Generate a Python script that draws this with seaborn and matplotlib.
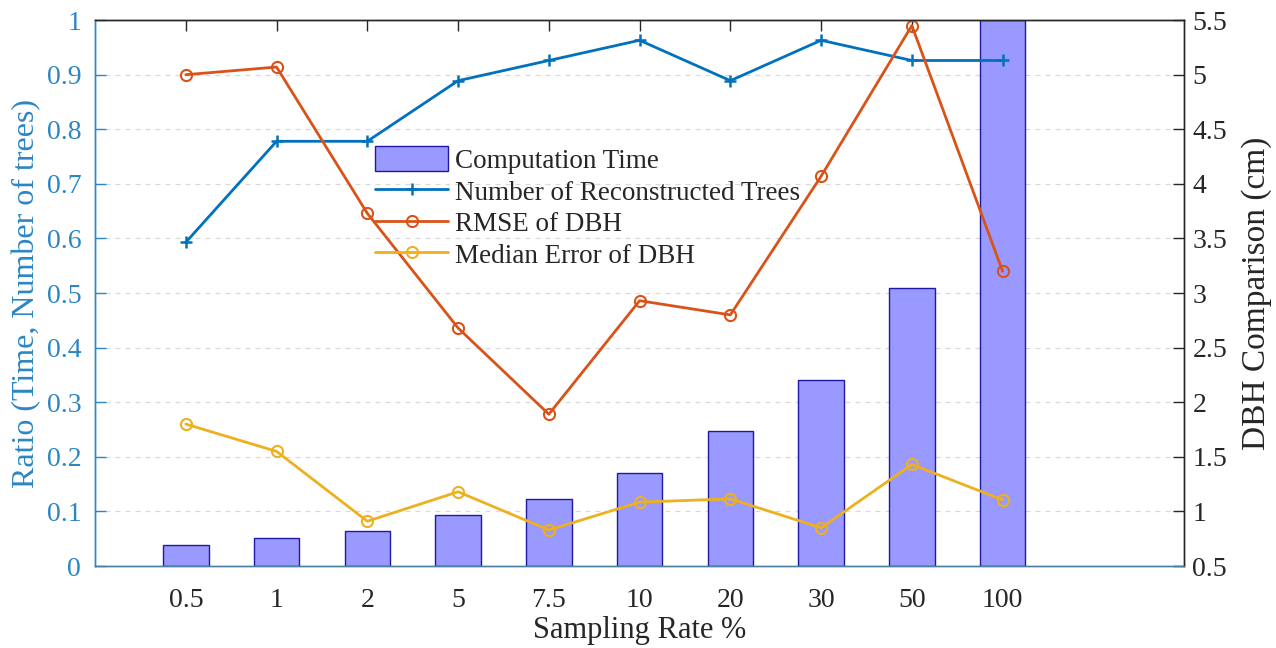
import pandas as pd
import matplotlib
matplotlib.use('Agg')
import matplotlib.pyplot as plt
import seaborn as sns
from matplotlib.patches import Patch
from matplotlib.lines import Line2D

# Data
rates = ['0.5', '1', '2', '5', '7.5', '10', '20', '30', '50', '100']
comp_time = [0.039, 0.051, 0.065, 0.093, 0.123, 0.170, 0.247, 0.340, 0.509, 1.0]
n_trees = [0.593, 0.778, 0.778, 0.889, 0.926, 0.963, 0.889, 0.963, 0.926, 0.926]
rmse_dbh = [5.00, 5.07, 3.73, 2.68, 1.89, 2.93, 2.80, 4.07, 5.45, 3.20]
median_dbh = [1.80, 1.55, 0.91, 1.18, 0.83, 1.085, 1.115, 0.85, 1.43, 1.106]

df = pd.DataFrame({'rate': rates, 'time': comp_time, 'trees': n_trees,
                   'rmse': rmse_dbh, 'median': median_dbh})
df['pos'] = range(len(df))

sns.set_style('white')
plt.rcParams['font.family'] = ['Liberation Serif', 'DejaVu Serif']

blue = '#0072BD'
orange = '#D95319'
yellow = '#EDB120'
bar_fill = '#9999FF'
bar_edge = '#1a1aa6'
axis_blue = '#2b86c4'
dark = '#262626'

fig = plt.figure(figsize=(12.76, 6.48), dpi=100)
ax = fig.add_axes([0.0745, 0.1265, 0.8535, 0.8425])
ax2 = ax.twinx()

# Bars: computation time (left axis)
sns.barplot(data=df, x='rate', y='time', ax=ax, width=0.5, color=bar_fill,
            saturation=1, edgecolor=bar_edge, linewidth=1.0, zorder=2)
# Line: number of reconstructed trees (left axis)
sns.lineplot(data=df, x='pos', y='trees', ax=ax, color=blue, marker='+',
             markersize=9, markeredgecolor=blue, markeredgewidth=1.8,
             linewidth=2.0, zorder=3)
# Lines on right axis
sns.lineplot(data=df, x='pos', y='rmse', ax=ax2, color=orange, marker='o',
             markersize=8, markerfacecolor='none', markeredgecolor=orange,
             markeredgewidth=1.5, linewidth=2.0)
sns.lineplot(data=df, x='pos', y='median', ax=ax2, color=yellow, marker='o',
             markersize=8, markerfacecolor='none', markeredgecolor=yellow,
             markeredgewidth=1.5, linewidth=2.0)

ax.set_xlim(-1, 11)
ax.set_ylim(0, 1)
ax2.set_ylim(0.5, 5.5)
ax.set_yticks([i / 10 for i in range(11)])
ax.set_yticklabels(['0', '0.1', '0.2', '0.3', '0.4', '0.5', '0.6', '0.7', '0.8', '0.9', '1'])
ax2.set_yticks([0.5 + 0.5 * i for i in range(11)])
ax2.set_yticklabels(['0.5', '1', '1.5', '2', '2.5', '3', '3.5', '4', '4.5', '5', '5.5'])
ax.set_xticks(df['pos'])
ax.set_xticklabels(rates)

ax.yaxis.grid(True, linestyle=(0, (4, 4)), color='#d9d9d9', linewidth=0.9)
ax.set_axisbelow(True)

ax.set_xlabel('Sampling Rate %', fontsize=22, color=dark, labelpad=2)
ax.set_ylabel('Ratio (Time, Number of trees)', fontsize=23, color=axis_blue, labelpad=4)
ax2.set_ylabel('DBH Comparison (cm)', fontsize=24, color=dark, labelpad=10)

ax.tick_params(axis='x', direction='in', length=8, width=1, colors=dark,
               labelsize=20, top=True, pad=16)
ax.tick_params(axis='y', direction='in', length=8, width=1, colors=axis_blue,
               labelsize=20, pad=10)
ax2.tick_params(axis='y', direction='in', length=8, width=1, colors=dark,
                labelsize=20, pad=6)

for s in ['top', 'right', 'bottom', 'left']:
    ax.spines[s].set_visible(True)
    ax2.spines[s].set_visible(True)
for a in (ax, ax2):
    a.spines['left'].set_color(axis_blue)
    a.spines['bottom'].set_color('#4f7ea3')
    a.spines['top'].set_color(dark)
    a.spines['right'].set_color(dark)
    for s in a.spines.values():
        s.set_linewidth(1.0)

handles = [
    Patch(facecolor=bar_fill, edgecolor=bar_edge, linewidth=1.0),
    Line2D([], [], color=blue, marker='+', markersize=9, markeredgewidth=1.8, linewidth=2.0),
    Line2D([], [], color=orange, marker='o', markersize=8, markerfacecolor='none',
           markeredgewidth=1.5, linewidth=2.0),
    Line2D([], [], color=yellow, marker='o', markersize=8, markerfacecolor='none',
           markeredgewidth=1.5, linewidth=2.0),
]
labels = ['Computation Time', 'Number of Reconstructed Trees', 'RMSE of DBH',
          'Median Error of DBH']
fig.legend(handles, labels, loc='upper left', bbox_to_anchor=(0.294, 0.774),
           frameon=False, fontsize=19.5, handlelength=2.7, handleheight=1.0,
           handletextpad=0.26, labelspacing=0.16, borderpad=0, borderaxespad=0)

fig.savefig('out.png', dpi=100)
